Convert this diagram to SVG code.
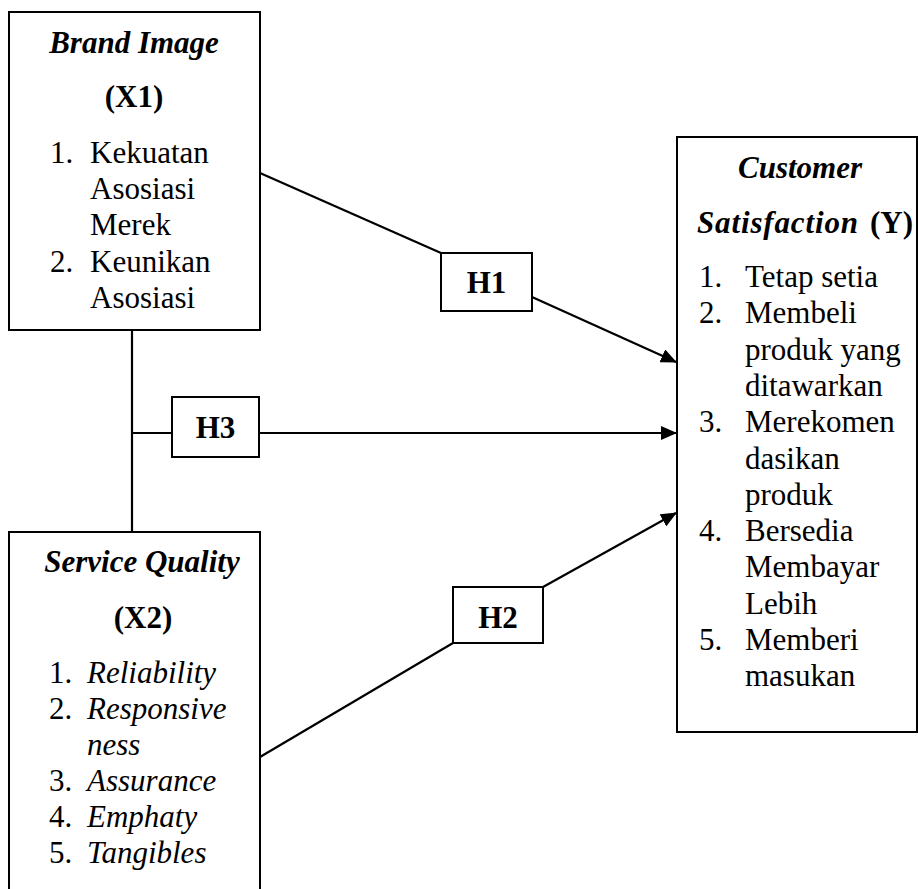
<svg xmlns="http://www.w3.org/2000/svg" width="918" height="889" viewBox="0 0 918 889">
<defs>
<style>
.box{fill:#fff;stroke:#000;stroke-width:2}
.t{font-family:"Liberation Serif","Times New Roman",serif;font-size:31px;fill:#000}
.b{font-weight:bold}
.i{font-style:italic}
.c{text-anchor:middle}
.ln{fill:none;stroke:#000;stroke-width:2.2}
</style>
<marker id="ah" markerUnits="userSpaceOnUse" markerWidth="16" markerHeight="14" refX="15" refY="7" orient="auto">
<path d="M0,0 L16,7 L0,14 Z" fill="#000"/>
</marker>
</defs>
<rect width="918" height="889" fill="#fff"/>
<g id="connectors">
<line class="ln" x1="260" y1="173" x2="441" y2="253"/>
<line class="ln" x1="532" y1="297" x2="676" y2="362" marker-end="url(#ah)"/>
<line class="ln" x1="132" y1="330" x2="132" y2="532"/>
<line class="ln" x1="132" y1="433" x2="172" y2="433"/>
<line class="ln" x1="259" y1="433" x2="676" y2="433" marker-end="url(#ah)"/>
<line class="ln" x1="260" y1="757" x2="453" y2="643"/>
<line class="ln" x1="543" y1="587" x2="676" y2="513" marker-end="url(#ah)"/>
</g>
<g id="brand-image">
<rect class="box" x="9" y="12" width="251" height="318"/>
<text class="t b i c" x="134" y="53">Brand Image</text>
<text class="t b c" x="134" y="107">(X1)</text>
<text class="t" x="50" y="163">1.</text><text class="t" x="90" y="163">Kekuatan</text>
<text class="t" x="90" y="199">Asosiasi</text>
<text class="t" x="90" y="235">Merek</text>
<text class="t" x="50" y="272">2.</text><text class="t" x="90" y="272">Keunikan</text>
<text class="t" x="90" y="308">Asosiasi</text>
</g>
<g id="service-quality">
<rect class="box" x="9" y="532" width="251" height="380"/>
<text class="t b i c" x="142" y="572">Service Quality</text>
<text class="t b c" x="143" y="628">(X2)</text>
<text class="t" x="49" y="683">1.</text><text class="t i" x="87" y="683">Reliability</text>
<text class="t" x="49" y="719">2.</text><text class="t i" x="87" y="719">Responsive</text>
<text class="t i" x="87" y="755">ness</text>
<text class="t" x="49" y="791">3.</text><text class="t i" x="87" y="791">Assurance</text>
<text class="t" x="49" y="827">4.</text><text class="t i" x="87" y="827">Emphaty</text>
<text class="t" x="49" y="863">5.</text><text class="t i" x="87" y="863">Tangibles</text>
</g>
<g id="customer-satisfaction">
<rect class="box" x="677" y="137" width="240" height="595"/>
<text class="t b i c" x="800" y="178">Customer</text>
<text class="t b i" x="697" y="233" textLength="161" lengthAdjust="spacing">Satisfaction</text>
<text class="t b" x="870" y="233">(Y)</text>
<text class="t" x="699" y="287">1.</text><text class="t" x="745" y="287">Tetap setia</text>
<text class="t" x="699" y="323.3">2.</text><text class="t" x="745" y="323.3">Membeli</text>
<text class="t" x="745" y="359.6">produk yang</text>
<text class="t" x="745" y="395.9">ditawarkan</text>
<text class="t" x="699" y="432.2">3.</text><text class="t" x="745" y="432.2">Merekomen</text>
<text class="t" x="745" y="468.5">dasikan</text>
<text class="t" x="745" y="504.8">produk</text>
<text class="t" x="699" y="541.1">4.</text><text class="t" x="745" y="541.1">Bersedia</text>
<text class="t" x="745" y="577.4">Membayar</text>
<text class="t" x="745" y="613.7">Lebih</text>
<text class="t" x="699" y="650">5.</text><text class="t" x="745" y="650">Memberi</text>
<text class="t" x="745" y="686.3">masukan</text>
</g>
<g id="h1">
<rect class="box" x="441" y="253" width="91" height="58"/>
<text class="t b c" x="486.5" y="293">H1</text>
</g>
<g id="h3">
<rect class="box" x="172" y="397" width="87" height="60"/>
<text class="t b c" x="215.5" y="438">H3</text>
</g>
<g id="h2">
<rect class="box" x="453" y="587" width="90" height="56"/>
<text class="t b c" x="498" y="628">H2</text>
</g>
</svg>
